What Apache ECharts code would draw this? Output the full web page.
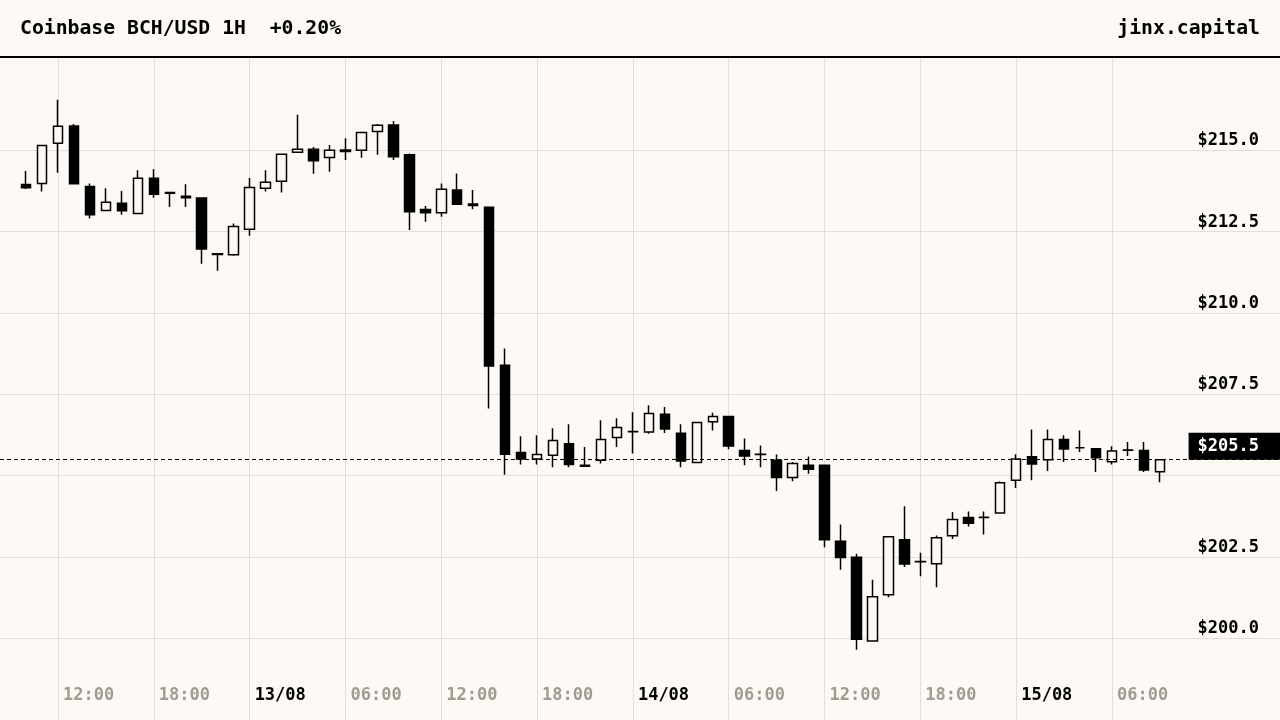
<!DOCTYPE html>
<html>
<head>
<meta charset="utf-8">
<script src="https://cdn.jsdelivr.net/npm/echarts@6/dist/echarts.min.js"></script>
<style>
  html, body { margin: 0; padding: 0; background: #fdfaf5; }
  #chart { width: 1280px; height: 720px; }
</style>
</head>
<body>
<div id="chart"></div>
<script>
// Hours since 12/08 00:00 for each hourly candle
const hours = [10,11,12,13,14,15,16,17,18,19,20,21,22,23,24,25,26,27,28,29,30,31,32,33,34,35,36,37,38,39,40,41,42,43,44,45,46,47,48,49,50,51,52,53,54,55,56,57,58,59,60,61,62,63,64,65,66,67,68,69,70,71,72,73,74,75,76,77,78,79,80,81];
const openV = [213.95,213.98,215.22,215.75,213.89,213.15,213.37,213.06,214.14,213.70,213.59,213.53,211.82,211.79,212.57,213.83,214.05,214.94,215.03,214.78,215.01,215.00,215.58,215.78,214.86,213.18,213.08,213.78,213.35,213.25,208.39,205.71,205.51,205.63,205.98,205.32,205.47,206.17,206.35,206.34,206.89,206.30,205.40,206.66,206.82,205.77,205.66,205.47,204.94,205.32,205.32,202.98,202.49,199.92,201.34,203.03,202.36,202.29,203.15,203.71,203.71,203.85,204.86,205.58,205.49,206.11,205.86,205.83,205.43,205.78,205.77,205.12];
const closeV = [213.85,215.15,215.74,213.97,213.02,213.40,213.14,214.14,213.65,213.68,213.54,211.97,211.80,212.66,213.86,214.02,214.88,215.03,214.68,215.00,214.96,215.55,215.77,214.80,213.11,213.08,213.80,213.34,213.30,208.37,205.66,205.51,205.65,206.08,205.34,205.29,206.11,206.48,206.36,206.91,206.43,205.45,206.63,206.82,205.91,205.60,205.65,204.94,205.37,205.20,203.03,202.48,199.97,201.28,203.12,202.28,202.35,203.09,203.65,203.54,203.72,204.78,205.51,205.36,206.11,205.82,205.86,205.55,205.76,205.79,205.17,205.49];
const lowV = [213.81,213.73,214.31,213.97,212.90,213.15,213.02,213.06,213.54,213.26,213.26,211.51,211.30,211.76,212.37,213.73,213.70,214.94,214.28,214.34,214.70,214.77,214.86,214.70,212.55,212.80,212.96,213.34,213.19,207.06,205.03,205.34,205.34,205.26,205.26,205.29,205.37,205.88,205.68,206.29,206.31,205.26,205.40,206.39,205.81,205.32,205.26,204.53,204.83,205.06,202.80,202.11,199.65,199.92,201.26,202.19,201.91,201.57,203.05,203.44,203.19,203.85,204.62,204.86,205.14,205.42,205.73,205.11,205.34,205.60,205.11,204.80];
const highV = [214.36,215.15,216.55,215.81,213.98,213.83,213.75,214.39,214.42,213.71,213.96,213.55,211.83,212.75,214.15,214.39,214.88,216.09,215.10,215.16,215.37,215.55,215.81,215.90,214.90,213.29,213.98,214.29,213.78,213.25,208.91,206.21,206.24,206.46,206.58,205.88,206.70,206.76,206.95,207.16,207.11,206.58,206.63,206.93,206.82,206.14,205.93,205.65,205.42,205.59,205.33,203.50,202.60,201.80,203.12,204.06,202.63,203.16,203.88,203.90,203.90,204.82,205.66,206.42,206.42,206.24,206.39,205.83,205.90,206.03,206.03,205.49];

const titleText = 'Coinbase BCH/USD 1H  +0.20%';
const brandText = 'jinx.capital';
const priceTicks = [200, 202.5, 205, 207.5, 210, 212.5, 215];
const hiddenPriceLabels = [205];
const timeTicks = [12, 78]; // first and last labelled hour
const startDay = 12;
const monthText = '08';

const BG = '#fdfaf5';
const GRID = '#e2ded8';
const FONT = '"DejaVu Sans Mono", monospace';

// layout: time grid spans 12h (x=58) .. 78h (x=1112)
const W = 1280;
const tLeft = 58, tRight = 1112;
const pxPerHour = (tRight - tLeft) / (timeTicks[1] - timeTicks[0]);
const xMin = timeTicks[0] - tLeft / pxPerHour;
const xMax = timeTicks[1] + (W - tRight) / pxPerHour;

const candles = hours.map((h, i) => [h, openV[i], closeV[i], lowV[i], highV[i]]);
const lastClose = closeV[closeV.length - 1];

function pad2(n) { return (n < 10 ? '0' : '') + n; }

const chart = echarts.init(document.getElementById('chart'));
chart.setOption({
  animation: false,
  backgroundColor: BG,
  grid: [
    { left: 0, right: 0, top: 150.3, bottom: 720 - 638.3, containLabel: false },
    { left: tLeft, right: W - tRight, top: 57, bottom: 0, containLabel: false }
  ],
  xAxis: [
    {
      gridIndex: 0, type: 'value', min: xMin, max: xMax, show: false,
      splitLine: { show: false }
    },
    {
      gridIndex: 1, type: 'value', min: timeTicks[0], max: timeTicks[1], interval: 6,
      position: 'bottom', offset: -41,
      axisLine: { show: false },
      axisTick: { show: false },
      splitLine: { show: true, lineStyle: { color: GRID, width: 1 } },
      axisLabel: {
        show: true,
        margin: 8,
        align: 'left',
        padding: [0, 0, 0, 5],
        formatter: function (v) {
          const hr = v % 24;
          if (hr === 0) {
            const day = startDay + Math.floor(v / 24);
            return '{d|' + pad2(day) + '/' + monthText + '}';
          }
          return '{t|' + pad2(hr) + ':00}';
        },
        rich: {
          d: { color: '#000', fontWeight: 'bold', fontSize: 17, fontFamily: FONT },
          t: { color: '#a19b94', fontWeight: 'bold', fontSize: 17, fontFamily: FONT }
        }
      }
    }
  ],
  yAxis: [
    {
      gridIndex: 0, type: 'value',
      min: priceTicks[0], max: priceTicks[priceTicks.length - 1], interval: 2.5,
      position: 'right',
      axisLine: { show: false },
      axisTick: { show: false },
      splitLine: { show: true, lineStyle: { color: GRID, width: 1 } },
      axisLabel: {
        inside: true,
        margin: 21,
        verticalAlign: 'bottom',
        padding: [0, 0, 1, 0],
        color: '#000',
        fontWeight: 'bold',
        fontSize: 17,
        fontFamily: FONT,
        formatter: function (v) {
          for (const h of hiddenPriceLabels) { if (Math.abs(v - h) < 1e-6) return ''; }
          return '$' + v.toFixed(1);
        }
      }
    },
    { gridIndex: 1, type: 'value', min: 0, max: 1, show: false, splitLine: { show: false } }
  ],
  series: [{
    type: 'candlestick',
    xAxisIndex: 0, yAxisIndex: 0,
    clip: false,
    data: candles,
    encode: { x: 0, y: [1, 2, 3, 4] },
    barWidth: 10,
    itemStyle: {
      color: BG,
      color0: '#000',
      borderColor: '#000',
      borderColor0: '#000',
      borderWidth: 1.5
    },
    markLine: {
      silent: true,
      symbol: ['none', 'none'],
      animation: false,
      lineStyle: { color: '#000', width: 1, type: [4, 3] },
      label: {
        show: true,
        position: 'insideEndTop',
        distance: [0, 0],
        formatter: function (p) { return '$' + Number(p.value).toFixed(1); },
        backgroundColor: '#000',
        color: '#fff',
        fontWeight: 'bold',
        fontSize: 17,
        fontFamily: FONT,
        lineHeight: 17,
        padding: [5, 21, 5, 9]
      },
      data: [{ yAxis: lastClose }]
    }
  }],
  graphic: [
    { type: 'rect', z: 100, shape: { x: 0, y: 0, width: 1280, height: 56 }, style: { fill: BG } },
    { type: 'rect', z: 101, shape: { x: 0, y: 56, width: 1280, height: 2 }, style: { fill: '#000' } },
    { type: 'text', z: 102, x: 20, y: 29, style: { text: titleText, font: 'bold 19.75px ' + FONT, fill: '#000', verticalAlign: 'middle', align: 'left' } },
    { type: 'text', z: 102, x: 1260, y: 29, style: { text: brandText, font: 'bold 19.75px ' + FONT, fill: '#000', verticalAlign: 'middle', align: 'right' } }
  ]
});
</script>
</body>
</html>
